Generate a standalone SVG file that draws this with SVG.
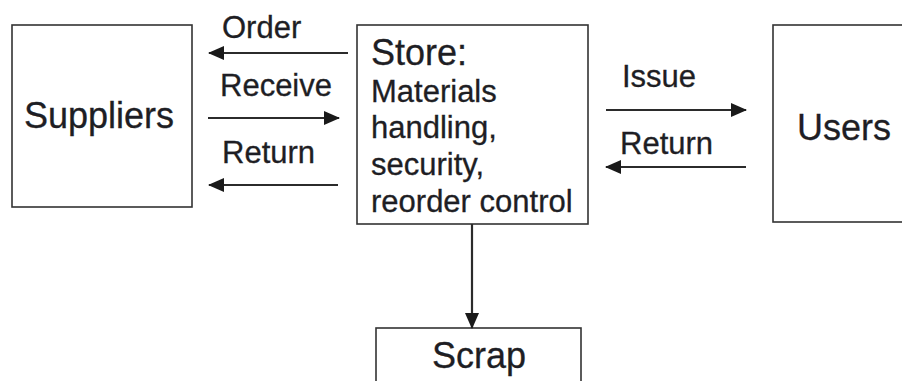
<svg xmlns="http://www.w3.org/2000/svg" width="902" height="381" viewBox="0 0 902 381">
  <style>
    .box { fill: #ffffff; stroke: #333333; stroke-width: 1.6; }
    .big { font-family: "Liberation Sans", Arial, sans-serif; font-size: 36px; fill: #1e1e24; stroke: #1e1e24; stroke-width: 0.3; }
    .txt { font-family: "Liberation Sans", Arial, sans-serif; font-size: 31px; fill: #1e1e24; stroke: #1e1e24; stroke-width: 0.3; }
    .link { stroke: #2b2b2b; stroke-width: 2.2; fill: none; marker-end: url(#head); }
  </style>
  <defs>
    <marker id="head" viewBox="0 0 16 14" refX="15" refY="7" markerWidth="16" markerHeight="14" markerUnits="userSpaceOnUse" orient="auto">
      <path d="M0,0 L16,7 L0,14 Z" fill="#1a1a1a"/>
    </marker>
  </defs>
  <rect width="902" height="381" fill="#ffffff"/>

  <g id="suppliers">
    <rect class="box" x="12" y="25" width="180" height="182"/>
    <text class="big" x="24" y="128">Suppliers</text>
  </g>

  <g id="store">
    <rect class="box" x="357" y="25" width="231" height="199"/>
    <text class="big" x="371" y="65">Store:</text>
    <text class="txt" x="371" y="102">Materials</text>
    <text class="txt" x="371" y="138">handling,</text>
    <text class="txt" x="371" y="175">security,</text>
    <text class="txt" x="371" y="212">reorder control</text>
  </g>

  <g id="users">
    <rect class="box" x="773" y="25" width="140" height="197"/>
    <text class="big" x="797" y="140">Users</text>
  </g>

  <g id="scrap">
    <rect class="box" x="376" y="328" width="205" height="70"/>
    <text class="big" x="432" y="368">Scrap</text>
  </g>

  <g id="connectors">
    <line class="link" x1="348" y1="53" x2="209" y2="53"/>
    <line class="link" x1="208" y1="118" x2="339" y2="118"/>
    <line class="link" x1="338" y1="185" x2="209" y2="185"/>
    <line class="link" x1="606" y1="110" x2="746" y2="110"/>
    <line class="link" x1="746" y1="167" x2="606" y2="167"/>
    <line class="link" x1="472" y1="224" x2="472" y2="328"/>
  </g>

  <g id="labels">
    <text class="txt" x="222" y="38">Order</text>
    <text class="txt" x="220" y="96">Receive</text>
    <text class="txt" x="222" y="163">Return</text>
    <text class="txt" x="622" y="87">Issue</text>
    <text class="txt" x="620" y="154">Return</text>
  </g>
</svg>
